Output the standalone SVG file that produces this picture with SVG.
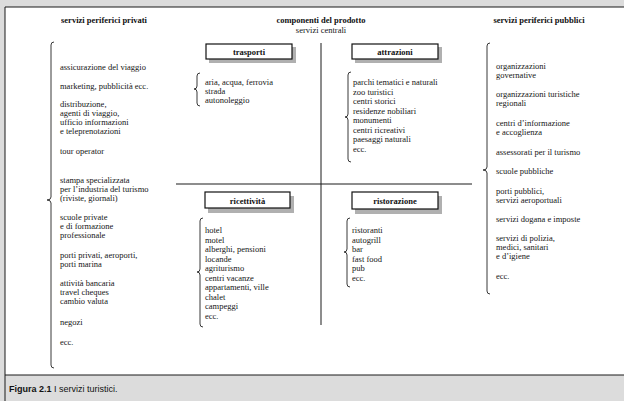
<svg xmlns="http://www.w3.org/2000/svg" width="624" height="401" viewBox="0 0 624 401">
<style>
.t{font-family:"Liberation Serif","Times New Roman",serif;font-size:8.5px;fill:#151515}
.b{font-family:"Liberation Serif","Times New Roman",serif;font-size:8.5px;font-weight:bold;fill:#111}
.h{text-anchor:middle}
.br{fill:none;stroke:#222;stroke-width:0.9}
.ln{stroke:#1a1a1a;stroke-width:1;fill:none}
.box{fill:#fff;stroke:#111;stroke-width:1.2}
.sh{fill:#b0b0b0}
.cap{font-family:"Liberation Sans",Arial,sans-serif;font-size:9px;fill:#111}
g{opacity:0.995}
</style>
<rect x="0" y="0" width="624" height="401" fill="#dcdcdc"/>
<rect x="5" y="7" width="619" height="368" fill="#ffffff"/>
<line class="ln" x1="5" y1="7" x2="624" y2="7"/>
<line class="ln" x1="5" y1="7" x2="5" y2="401"/>
<line class="ln" x1="5" y1="375" x2="624" y2="375" stroke="#555"/>

<g id="headers">
<text class="b h" x="104" y="23">servizi periferici privati</text>
<text class="b h" x="321" y="23">componenti del prodotto</text>
<text class="t h" x="321" y="33">servizi centrali</text>
<text class="b h" x="539" y="23">servizi periferici pubblici</text>
</g>

<g id="connectors">
<line class="ln" x1="321" y1="43" x2="321" y2="325"/>
<line class="ln" x1="176" y1="184" x2="472" y2="184"/>
</g>

<g id="privati">
<path class="br" d="M54 42 Q51 42 51 45 L51 197 Q51 200 47 200 Q51 200 51 203 L51 365 Q51 368 54 368"/>
<text class="t" x="60" y="70">assicurazione del viaggio</text>
<text class="t" x="60" y="89">marketing, pubblicità ecc.</text>
<text class="t" x="60" y="107">distribuzione,</text>
<text class="t" x="60" y="116">agenti di viaggio,</text>
<text class="t" x="60" y="125">ufficio informazioni</text>
<text class="t" x="60" y="134">e teleprenotazioni</text>
<text class="t" x="60" y="154">tour operator</text>
<text class="t" x="60" y="183">stampa specializzata</text>
<text class="t" x="60" y="192">per l’industria del turismo</text>
<text class="t" x="60" y="201">(riviste, giornali)</text>
<text class="t" x="60" y="220">scuole private</text>
<text class="t" x="60" y="229">e di formazione</text>
<text class="t" x="60" y="238">professionale</text>
<text class="t" x="60" y="258">porti privati, aeroporti,</text>
<text class="t" x="60" y="267">porti marina</text>
<text class="t" x="60" y="286">attività bancaria</text>
<text class="t" x="60" y="295">travel cheques</text>
<text class="t" x="60" y="304">cambio valuta</text>
<text class="t" x="60" y="325">negozi</text>
<text class="t" x="60" y="345">ecc.</text>
</g>

<g id="trasporti">
<rect class="sh" x="209" y="47" width="87" height="16"/>
<rect class="box" x="206" y="44" width="86" height="15"/>
<text class="b h" x="249" y="55">trasporti</text>
<path class="br" d="M200 73 Q197 73 197 76 L197 86 Q197 89 194 89 Q197 89 197 92 L197 103 Q197 106 200 106"/>
<text class="t" x="205" y="85">aria, acqua, ferrovia</text>
<text class="t" x="205" y="94">strada</text>
<text class="t" x="205" y="103">autonoleggio</text>
</g>

<g id="attrazioni">
<rect class="sh" x="355" y="47" width="87" height="16"/>
<rect class="box" x="352" y="44" width="86" height="15"/>
<text class="b h" x="395" y="55">attrazioni</text>
<path class="br" d="M351 72 Q348 72 348 75 L348 114 Q348 117 345 117 Q348 117 348 120 L348 159 Q348 162 351 162"/>
<text class="t" x="353" y="85">parchi tematici e naturali</text>
<text class="t" x="353" y="94.5">zoo turistici</text>
<text class="t" x="353" y="104">centri storici</text>
<text class="t" x="353" y="113.5">residenze nobiliari</text>
<text class="t" x="353" y="123">monumenti</text>
<text class="t" x="353" y="132.5">centri ricreativi</text>
<text class="t" x="353" y="142">paesaggi naturali</text>
<text class="t" x="353" y="151.5">ecc.</text>
</g>

<g id="ricettivita">
<rect class="sh" x="208" y="196" width="86" height="17"/>
<rect class="box" x="205" y="192" width="85" height="16"/>
<text class="b h" x="247.5" y="203.5">ricettività</text>
<path class="br" d="M203 218 Q200 218 200 221 L200 269 Q200 272 197 272 Q200 272 200 275 L200 324 Q200 327 203 327"/>
<text class="t" x="205" y="233">hotel</text>
<text class="t" x="205" y="242.5">motel</text>
<text class="t" x="205" y="252">alberghi, pensioni</text>
<text class="t" x="205" y="261.5">locande</text>
<text class="t" x="205" y="271">agriturismo</text>
<text class="t" x="205" y="280.5">centri vacanze</text>
<text class="t" x="205" y="290">appartamenti, ville</text>
<text class="t" x="205" y="299.5">chalet</text>
<text class="t" x="205" y="309">campeggi</text>
<text class="t" x="205" y="318.5">ecc.</text>
</g>

<g id="ristorazione">
<rect class="sh" x="355" y="196" width="87" height="18"/>
<rect class="box" x="352" y="192" width="86" height="17"/>
<text class="b h" x="395" y="204">ristorazione</text>
<path class="br" d="M350 218 Q347 218 347 221 L347 249 Q347 252 344 252 Q347 252 347 255 L347 284 Q347 287 350 287"/>
<text class="t" x="352" y="233">ristoranti</text>
<text class="t" x="352" y="242.5">autogrill</text>
<text class="t" x="352" y="252">bar</text>
<text class="t" x="352" y="261.5">fast food</text>
<text class="t" x="352" y="271">pub</text>
<text class="t" x="352" y="280.5">ecc.</text>
</g>

<g id="pubblici">
<path class="br" d="M490 43 Q487 43 487 46 L487 167 Q487 170 483 170 Q487 170 487 173 L487 291 Q487 294 490 294"/>
<text class="t" x="496" y="69">organizzazioni</text>
<text class="t" x="496" y="78">governative</text>
<text class="t" x="496" y="97">organizzazioni turistiche</text>
<text class="t" x="496" y="106">regionali</text>
<text class="t" x="496" y="126">centri d’informazione</text>
<text class="t" x="496" y="135">e accoglienza</text>
<text class="t" x="496" y="155">assessorati per il turismo</text>
<text class="t" x="496" y="174">scuole pubbliche</text>
<text class="t" x="496" y="194">porti pubblici,</text>
<text class="t" x="496" y="203">servizi aeroportuali</text>
<text class="t" x="496" y="222">servizi dogana e imposte</text>
<text class="t" x="496" y="241">servizi di polizia,</text>
<text class="t" x="496" y="250">medici, sanitari</text>
<text class="t" x="496" y="259">e d’igiene</text>
<text class="t" x="496" y="279">ecc.</text>
</g>

<g id="caption">
<text class="cap" x="9" y="392"><tspan font-weight="bold">Figura 2.1</tspan><tspan x="54">I servizi turistici.</tspan></text>
</g>
</svg>
